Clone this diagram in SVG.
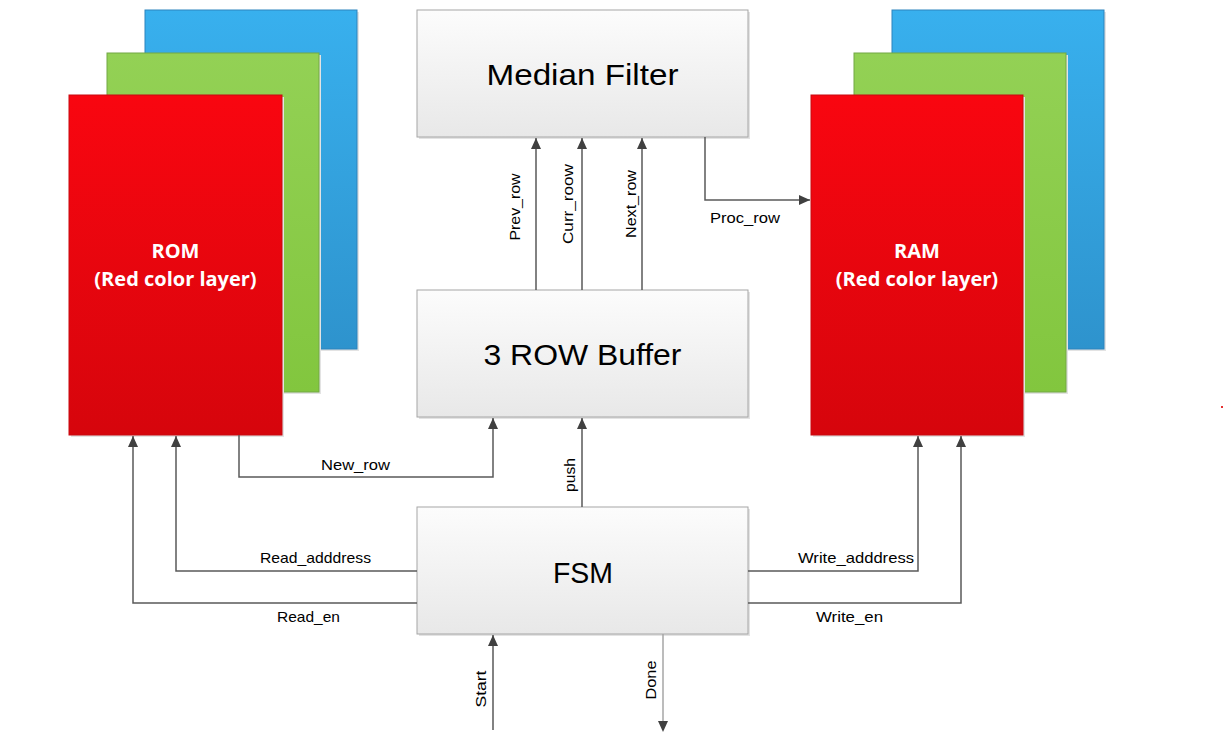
<svg xmlns="http://www.w3.org/2000/svg" width="1226" height="755" viewBox="0 0 1226 755">
<style>
.lbl{font-family:"Liberation Sans",Arial,sans-serif;font-size:15px;fill:#000}
.title{font-family:"Liberation Sans",Arial,sans-serif;font-size:29px;fill:#000;text-anchor:middle}
.mem{font-family:"Open Sans","Liberation Sans",Arial,sans-serif;font-size:20px;font-weight:bold;fill:#fff;text-anchor:middle}
.box{fill:url(#gBox);stroke:#a6a6a6;stroke-width:1}
.shadow{fill:#e3e3e3}
.red{fill:url(#gRed);stroke:#c80a10;stroke-width:1}
.green{fill:url(#gGreen);stroke:#73a845;stroke-width:1}
.blue{fill:url(#gBlue);stroke:#2c83bd;stroke-width:1}
.wire{fill:none;stroke:#595959;stroke-width:1.5}
.wireLight{fill:none;stroke:#a6a6a6;stroke-width:1.5}
</style>
<defs>
<linearGradient id="gBox" x1="0" y1="0" x2="0" y2="1"><stop offset="0" stop-color="#fcfcfc"/><stop offset="1" stop-color="#e8e8e8"/></linearGradient>
<linearGradient id="gRed" x1="0" y1="0" x2="0" y2="1"><stop offset="0" stop-color="#f90610"/><stop offset="1" stop-color="#d6050c"/></linearGradient>
<linearGradient id="gGreen" x1="0" y1="0" x2="0" y2="1"><stop offset="0" stop-color="#93d155"/><stop offset="1" stop-color="#82c63e"/></linearGradient>
<linearGradient id="gBlue" x1="0" y1="0" x2="0" y2="1"><stop offset="0" stop-color="#38b0ee"/><stop offset="1" stop-color="#2e93cd"/></linearGradient>
<marker id="arr" markerUnits="userSpaceOnUse" markerWidth="12" markerHeight="10" refX="11" refY="5" orient="auto"><path d="M0,0 L11,5 L0,10 z" fill="#404040"/></marker>
</defs>

<g id="rom">
<rect class="shadow" x="147" y="12" width="212" height="339"/>
<rect class="blue" x="145" y="10" width="212" height="339"/>
<rect class="shadow" x="109" y="55" width="212" height="339"/>
<rect class="green" x="107" y="53" width="212" height="339"/>
<rect class="shadow" x="71" y="97" width="213" height="340"/>
<rect class="red" x="69" y="95" width="213" height="340"/>
<text class="mem" x="175.5" y="258">ROM</text>
<text class="mem" x="175.5" y="286">(Red color layer)</text>
</g>

<g id="ram">
<rect class="shadow" x="894" y="12" width="212" height="339"/>
<rect class="blue" x="892" y="10" width="212" height="339"/>
<rect class="shadow" x="856" y="55" width="212" height="339"/>
<rect class="green" x="854" y="53" width="212" height="339"/>
<rect class="shadow" x="813" y="97" width="212" height="340"/>
<rect class="red" x="811" y="95" width="212" height="340"/>
<text class="mem" x="917" y="258">RAM</text>
<text class="mem" x="917" y="286">(Red color layer)</text>
</g>

<g id="median-filter">
<rect class="shadow" x="419" y="12" width="331" height="127"/>
<rect class="box" x="417" y="10" width="331" height="127"/>
<text class="title" x="582.5" y="85" textLength="192" lengthAdjust="spacingAndGlyphs">Median Filter</text>
</g>

<g id="row-buffer">
<rect class="shadow" x="419" y="292" width="331" height="127"/>
<rect class="box" x="417" y="290" width="331" height="127"/>
<text class="title" x="582.5" y="365" textLength="198" lengthAdjust="spacingAndGlyphs">3 ROW Buffer</text>
</g>

<g id="fsm">
<rect class="shadow" x="419" y="509" width="331" height="127"/>
<rect class="box" x="417" y="507" width="331" height="127"/>
<text class="title" x="583" y="583" textLength="60" lengthAdjust="spacingAndGlyphs">FSM</text>
</g>

<g id="connectors">
<path class="wire" d="M536,290 V138" marker-end="url(#arr)"/>
<path class="wire" d="M582,290 V138" marker-end="url(#arr)"/>
<path class="wire" d="M642,290 V138" marker-end="url(#arr)"/>
<path class="wire" d="M705,137 V200 H810" marker-end="url(#arr)"/>
<path class="wire" d="M239,435 V477 H493 V418" marker-end="url(#arr)"/>
<path class="wire" d="M582,507 V418" marker-end="url(#arr)"/>
<path class="wire" d="M417,571 H176 V436" marker-end="url(#arr)"/>
<path class="wire" d="M417,603 H133 V436" marker-end="url(#arr)"/>
<path class="wire" d="M748,571 H918 V436" marker-end="url(#arr)"/>
<path class="wire" d="M748,603 H961 V436" marker-end="url(#arr)"/>
<path class="wire" d="M493,730 V635" marker-end="url(#arr)"/>
<path class="wireLight" d="M663,634 V722"/>
<path d="M658,721 L663,732 L668,721 z" fill="#404040"/>

<text class="lbl" transform="translate(520,207) rotate(-90)" text-anchor="middle" textLength="67" lengthAdjust="spacingAndGlyphs">Prev_row</text>
<text class="lbl" transform="translate(573,204) rotate(-90)" text-anchor="middle" textLength="80" lengthAdjust="spacingAndGlyphs">Curr_roow</text>
<text class="lbl" transform="translate(636,204) rotate(-90)" text-anchor="middle" textLength="68" lengthAdjust="spacingAndGlyphs">Next_row</text>
<text class="lbl" x="745" y="223" text-anchor="middle" textLength="70" lengthAdjust="spacingAndGlyphs">Proc_row</text>
<text class="lbl" x="355.5" y="470" text-anchor="middle" textLength="69" lengthAdjust="spacingAndGlyphs">New_row</text>
<text class="lbl" transform="translate(575,475) rotate(-90)" text-anchor="middle" textLength="34" lengthAdjust="spacingAndGlyphs">push</text>
<text class="lbl" x="315.5" y="563" text-anchor="middle" textLength="111" lengthAdjust="spacingAndGlyphs">Read_adddress</text>
<text class="lbl" x="308.5" y="622" text-anchor="middle" textLength="63" lengthAdjust="spacingAndGlyphs">Read_en</text>
<text class="lbl" x="856" y="563" text-anchor="middle" textLength="116" lengthAdjust="spacingAndGlyphs">Write_adddress</text>
<text class="lbl" x="849.5" y="622" text-anchor="middle" textLength="67" lengthAdjust="spacingAndGlyphs">Write_en</text>
<text class="lbl" transform="translate(486,689) rotate(-90)" text-anchor="middle" textLength="37" lengthAdjust="spacingAndGlyphs">Start</text>
<text class="lbl" transform="translate(656,680) rotate(-90)" text-anchor="middle" textLength="39" lengthAdjust="spacingAndGlyphs">Done</text>
</g>
<rect x="1221" y="406" width="2" height="2" fill="#e53030"/>
</svg>
